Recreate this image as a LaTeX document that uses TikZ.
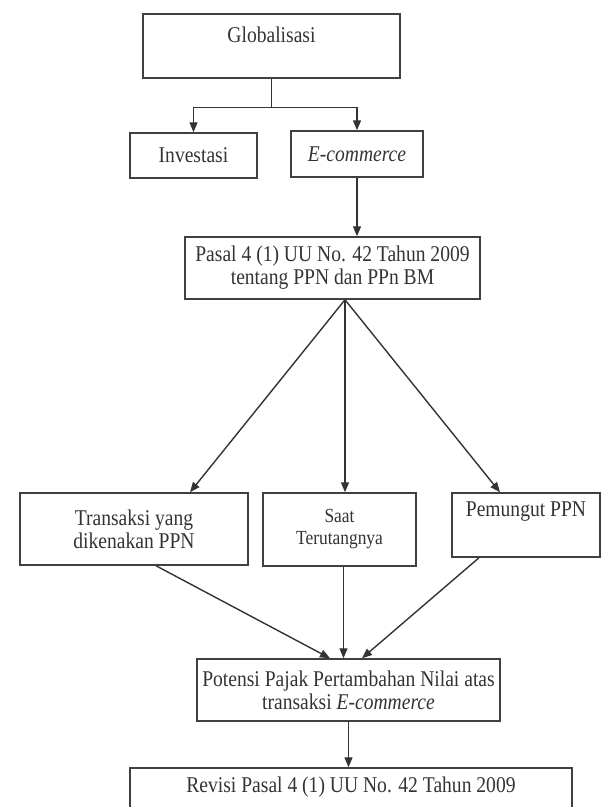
\documentclass[tikz,border=0pt]{standalone}
\usepackage{fontspec}
\setmainfont{Liberation Serif}[FakeStretch=0.87]
\usetikzlibrary{arrows.meta}

\begin{document}
\begin{tikzpicture}[x=1pt, y=-1pt, >={Triangle[length=10pt,width=8pt]},
  every node/.style={font=\fontsize{22.5}{23}\selectfont, align=center, text=black!80},
  box/.style={draw=black!75, line width=1.5pt, inner sep=0pt},
  link/.style={->, draw=black!80, line width=1.4pt}]
  \useasboundingbox (0,0) rectangle (603,807);
  \clip (0,0) rectangle (603,807);

  % kotak-kotak
  \node[box, minimum width=257pt, minimum height=64pt] (glob) at (271.5,46) {Globalisasi\\~};
  \node[box, minimum width=127pt, minimum height=45pt] (inv) at (193.5,155.5) {Investasi};
  \node[box, minimum width=132pt, minimum height=46pt] (ecom) at (357,154) {\textit{E-commerce}};
  \node[box, minimum width=295pt, minimum height=62pt] (pasal) at (332.5,268)
      {Pasal 4 (1) UU No. 42 Tahun 2009\\tentang PPN dan PPn BM};

  \node[box, minimum width=228pt, minimum height=72pt] (trans) at (134,529) {Transaksi yang\\dikenakan PPN};
  \node[box, minimum width=153pt, minimum height=73pt, font=\fontsize{20}{22}\selectfont] (saat)
      at (339.5,529.5) {Saat\\Terutangnya};
  \node[box, minimum width=148pt, minimum height=64pt] (pemu) at (526,525) {Pemungut PPN\\[8pt]~};

  \node[box, minimum width=303pt, minimum height=62pt] (pot) at (348.5,690)
      {Potensi Pajak Pertambahan Nilai atas\\transaksi \textit{E-commerce}};
  \node[box, minimum width=442pt, minimum height=56pt] (rev) at (351,796)
      {Revisi Pasal 4 (1) UU No. 42 Tahun 2009\\~};

  % panah
  \coordinate (split) at ([yshift=-29pt]glob.south);
  \draw[draw=black!80, line width=1.4pt] (glob.south) -- (split);
  \draw[link] (split) -| (inv.north);
  \draw[link] (split) -| (ecom.north);
  \draw[link] (ecom.south) -- (ecom.south |- pasal.north);

  \coordinate (fork) at ([xshift=12.5pt]pasal.south);
  \draw[link] (fork) -- ([xshift=56pt]trans.north);
  \draw[link] (fork) -- (fork |- saat.north);
  \draw[link] (fork) -- ([xshift=-26pt]pemu.north);

  \draw[link] ([xshift=22pt]trans.south) -- ([xshift=-18.5pt]pot.north);
  \draw[link] ([xshift=4pt]saat.south) -- ([xshift=-5pt]pot.north);
  \draw[link] ([xshift=-47pt]pemu.south) -- ([xshift=13.5pt]pot.north);
  \draw[link] (pot.south) -- (pot.south |- rev.north);
\end{tikzpicture}
\end{document}
